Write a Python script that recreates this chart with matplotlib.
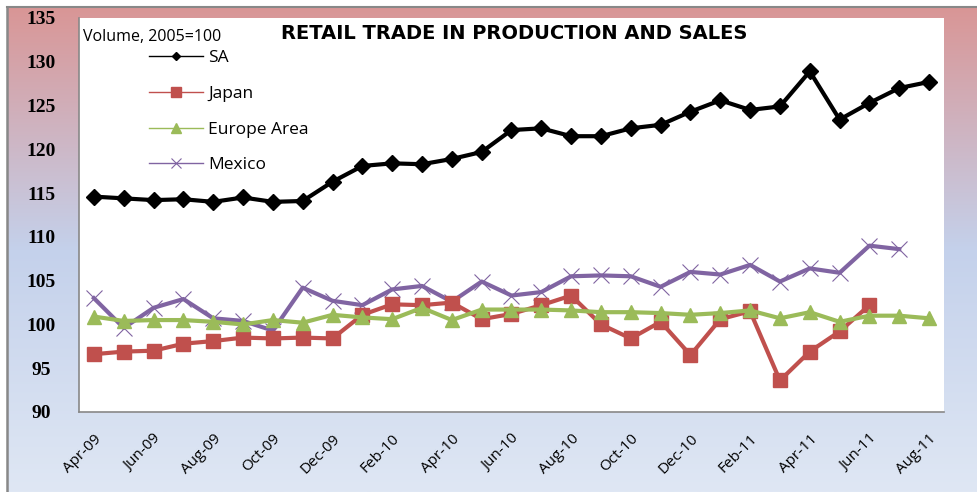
import numpy as np
import matplotlib
matplotlib.use('Agg')
import matplotlib.pyplot as plt
from matplotlib.lines import Line2D

# Monthly data, Apr-09 .. Aug-11 (volume, 2005=100)
months = ['Apr-09', 'May-09', 'Jun-09', 'Jul-09', 'Aug-09', 'Sep-09', 'Oct-09', 'Nov-09',
          'Dec-09', 'Jan-10', 'Feb-10', 'Mar-10', 'Apr-10', 'May-10', 'Jun-10', 'Jul-10',
          'Aug-10', 'Sep-10', 'Oct-10', 'Nov-10', 'Dec-10', 'Jan-11', 'Feb-11', 'Mar-11',
          'Apr-11', 'May-11', 'Jun-11', 'Jul-11', 'Aug-11']

sa = [114.6, 114.4, 114.2, 114.3, 114.0, 114.5, 114.0, 114.1, 116.3, 118.1, 118.4, 118.3,
      118.9, 119.7, 122.2, 122.4, 121.5, 121.5, 122.4, 122.8, 124.3, 125.6, 124.5, 124.9,
      128.9, 123.4, 125.3, 127.0, 127.7]
japan = [96.6, 96.9, 97.0, 97.8, 98.1, 98.5, 98.4, 98.5, 98.4, 101.1, 102.3, 102.2,
         102.5, 100.6, 101.2, 102.2, 103.3, 100.0, 98.4, 100.3, 96.5, 100.6, 101.5, 93.6,
         96.9, 99.2, 102.2]
europe = [100.9, 100.4, 100.5, 100.5, 100.3, 100.0, 100.5, 100.2, 101.1, 100.8, 100.6, 101.9,
          100.5, 101.7, 101.7, 101.7, 101.6, 101.4, 101.4, 101.3, 101.1, 101.3, 101.6, 100.7,
          101.4, 100.3, 101.0, 101.0, 100.7]
mexico = [103.0, 99.6, 101.9, 102.9, 100.7, 100.4, 99.3, 104.2, 102.7, 102.2, 104.0, 104.4,
          102.6, 104.9, 103.3, 103.7, 105.5, 105.6, 105.5, 104.3, 106.0, 105.7, 106.8, 104.9,
          106.4, 105.9, 109.0, 108.6]

yticks = [90, 95, 100, 105, 110, 115, 120, 125, 130, 135]

W, H = 978, 492
fig = plt.figure(figsize=(W / 100, H / 100), dpi=100)
fig.patch.set_facecolor('white')

# gradient background (rose at top, pale blue below)
bg = fig.add_axes([8 / W, 0, 1 - 8 / W, 1 - 8 / H])
stops_y = [0.0, 0.5, 1.0]
stops_c = np.array([[217, 150, 150], [196, 209, 235], [223, 231, 244]]) / 255
t = np.linspace(0, 1, 300)
grad = np.stack([np.interp(t, stops_y, stops_c[:, k]) for k in range(3)], axis=-1)
bg.imshow(grad[:, None, :], aspect='auto', extent=[0, 1, 0, 1])
bg.set_axis_off()
fig.add_artist(Line2D([7 / W, 7 / W], [0, 1 - 7 / H], color='#888888', lw=1.8))
fig.add_artist(Line2D([7 / W, 1], [1 - 7 / H, 1 - 7 / H], color='#888888', lw=1.5))

ax = fig.add_axes([79 / W, 80 / H, 865 / W, 394 / H])
ax.set_facecolor('white')

x = np.arange(len(months))
ax.plot(x[:len(sa)], sa, color='black', lw=3, marker='D', ms=8, zorder=5)
ax.plot(x[:len(japan)], japan, color='#C0504D', lw=3, marker='s', ms=10, zorder=3)
ax.plot(x[:len(europe)], europe, color='#9BBB59', lw=3, marker='^', ms=10, zorder=4)
ax.plot(x[:len(mexico)], mexico, color='#8064A2', lw=3, marker='x', ms=11, mew=0.8, zorder=2)

ax.set_xlim(-0.5, len(months) - 0.5)
ax.set_ylim(90, 135)
ax.set_yticks(yticks)
ax.set_yticklabels([str(v) for v in yticks], family='Liberation Serif', fontweight='bold',
                   fontsize=14, ha='center')
ax.tick_params(axis='y', length=0, pad=27)
ax.set_xticks(x[::2])
ax.set_xticklabels(months[::2], rotation=45, ha='right', rotation_mode='anchor',
                   family='Open Sans', fontsize=11)
ax.tick_params(axis='x', length=0, pad=14)

for s in ['top', 'right']:
    ax.spines[s].set_visible(False)
for s in ['left', 'bottom']:
    ax.spines[s].set_color('#888888')
    ax.spines[s].set_linewidth(1.2)

fig.text(514 / W, 1 - 33 / H, 'RETAIL TRADE IN PRODUCTION AND SALES', ha='center', va='center',
         family='DejaVu Sans', fontweight='bold', fontsize=14)
fig.text(83 / W, 1 - 37 / H, 'Volume, 2005=100', ha='left', va='center',
         family='Open Sans', fontsize=11.5)

handles = [
    Line2D([], [], color='black', lw=1, marker='D', ms=4.5),
    Line2D([], [], color='#C0504D', lw=1, marker='s', ms=7),
    Line2D([], [], color='#9BBB59', lw=1, marker='^', ms=7),
    Line2D([], [], color='#8064A2', lw=1, marker='x', ms=7, mew=0.8),
]
leg = ax.legend(handles, ['SA', 'Japan', 'Europe Area', 'Mexico'], loc='upper left',
                bbox_to_anchor=(63 / 865, 1 - 25 / 394), frameon=False,
                prop={'family': 'Open Sans', 'size': 12.5}, labelspacing=1.13,
                handlelength=3.1, handletextpad=0.3, borderaxespad=0)

fig.savefig('out.png', dpi=100)
